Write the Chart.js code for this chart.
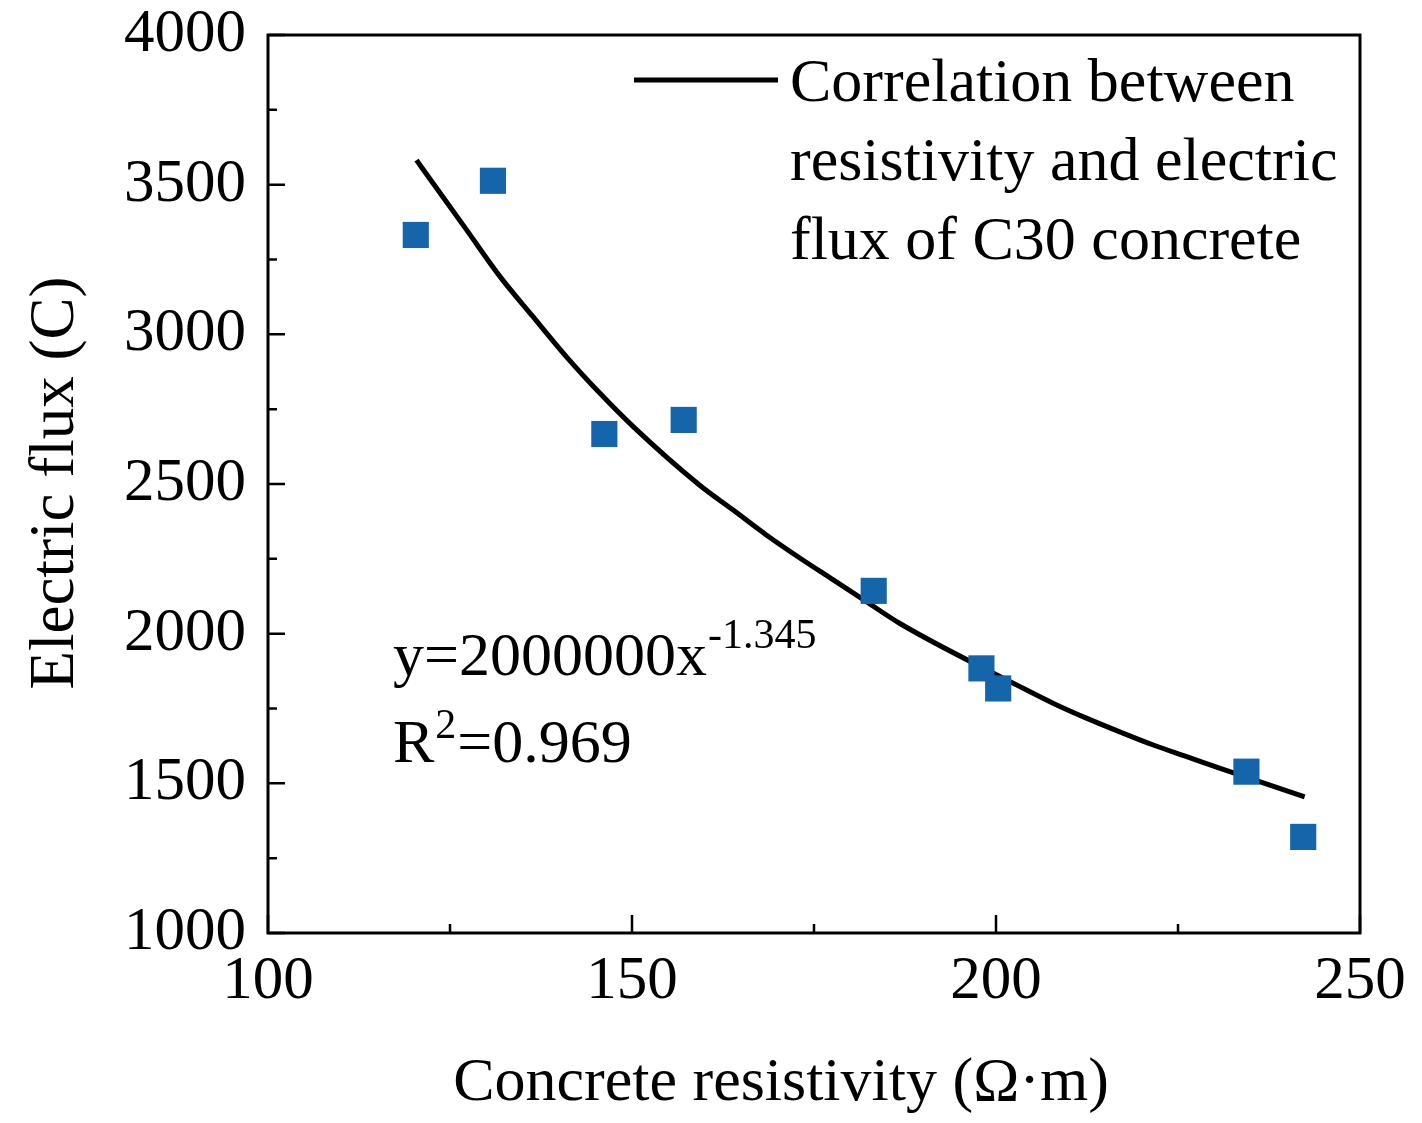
<!DOCTYPE html>
<html>
<head>
<meta charset="utf-8">
<script src="https://cdn.jsdelivr.net/npm/chart.js@4"></script>
<style>
  body { margin: 0; background: #fff; }
  #wrap { width: 1422px; height: 1123px; }
</style>
</head>
<body>
<div id="wrap"><canvas id="myChart" width="1422" height="1123"></canvas></div>
<script>
// measured points (resistivity, electric flux)
const resistivity = [120.3, 130.9, 146.2, 157.1, 183.2, 198.0, 200.3, 234.4, 242.2];
const electricFlux = [3332, 3513, 2667, 2714, 2143, 1884, 1817, 1539, 1321];

// fitted curve
const fitX = [120.4, 122.7, 127.3, 131.9, 136.4, 141.0, 145.6, 150.2, 159.3, 163.9, 168.5, 173.1, 177.7, 182.2, 186.8, 203.3, 207.9, 212.5, 217.0, 221.6, 226.2, 230.8, 242.4];
const fitY = [3582, 3504, 3348, 3192, 3059, 2925, 2803, 2691, 2496, 2413, 2329, 2252, 2179, 2107, 2034, 1823, 1767, 1717, 1672, 1628, 1589, 1550, 1455];

const xTicks = [100, 150, 200, 250];
const yTicks = [1000, 1500, 2000, 2500, 3000, 3500, 4000];

const legendLines = ["Correlation between", "resistivity and electric", "flux of C30 concrete"];
const fitText = "y=2000000x";
const fitExp = "-1.345";
const r2Text = "=0.969";

const serif = "'Liberation Serif', 'Times New Roman', serif";
const pointBlue = "#1565ab";

// frame + inward ticks + texts
const decorations = {
  id: "decorations",
  afterDraw(chart) {
    const ctx = chart.ctx;
    const a = chart.chartArea;
    const xs = chart.scales.x, ys = chart.scales.y;
    ctx.save();
    ctx.strokeStyle = "#000";
    ctx.lineWidth = 3;
    ctx.strokeRect(a.left, a.top, a.right - a.left, a.bottom - a.top);

    ctx.lineWidth = 2.5;
    ctx.beginPath();
    for (let v = 100; v <= 250; v += 25) {
      const px = xs.getPixelForValue(v);
      const len = (v % 50 === 0) ? 18 : 9;
      ctx.moveTo(px, a.bottom);
      ctx.lineTo(px, a.bottom - len);
    }
    for (let v = 1000; v <= 4000; v += 250) {
      const py = ys.getPixelForValue(v);
      const len = (v % 500 === 0) ? 17 : 9;
      ctx.moveTo(a.left, py);
      ctx.lineTo(a.left + len, py);
    }
    ctx.stroke();

    // legend
    ctx.lineWidth = 5;
    ctx.beginPath();
    ctx.moveTo(634, 80);
    ctx.lineTo(778, 80);
    ctx.stroke();
    ctx.fillStyle = "#000";
    ctx.font = "62px " + serif;
    ctx.textAlign = "left";
    ctx.textBaseline = "alphabetic";
    legendLines.forEach((t, i) => ctx.fillText(t, 790, 101 + i * 79));

    // fit equation
    ctx.fillText(fitText, 393, 675);
    const w = ctx.measureText(fitText).width;
    ctx.font = "42px " + serif;
    ctx.fillText(fitExp, 393 + w + 1, 648);
    ctx.font = "62px " + serif;
    ctx.fillText("R", 393, 762);
    const rw = ctx.measureText("R").width;
    ctx.font = "42px " + serif;
    ctx.fillText("2", 393 + rw + 1, 738);
    const tw = ctx.measureText("2").width;
    ctx.font = "62px " + serif;
    ctx.fillText(r2Text, 393 + rw + tw + 2, 762);

    // axis titles
    ctx.textAlign = "center";
    ctx.fillText("Concrete resistivity (\u03A9\u00B7m)", 781, 1100);
    ctx.font = "63px " + serif;
    ctx.translate(73, 483);
    ctx.rotate(-Math.PI / 2);
    ctx.fillText("Electric flux (C)", 0, 0);
    ctx.restore();
  }
};

new Chart("myChart", {
  data: {
    datasets: [
      {
        type: "scatter",
        label: "Measured",
        data: resistivity.map((x, i) => ({x: x, y: electricFlux[i]})),
        pointStyle: "rect",
        pointRadius: 18.5,
        backgroundColor: pointBlue,
        borderColor: pointBlue,
        borderWidth: 0
      },
      {
        type: "line",
        label: legendLines.join(" "),
        data: fitX.map((x, i) => ({x: x, y: fitY[i]})),
        borderColor: "#000",
        borderWidth: 5,
        pointRadius: 0,
        cubicInterpolationMode: "monotone",
        fill: false
      }
    ]
  },
  options: {
    responsive: false,
    animation: false,
    layout: { padding: { top: 35, right: 62, left: 0, bottom: 0 } },
    plugins: { legend: { display: false }, tooltip: { enabled: false } },
    scales: {
      x: {
        type: "linear",
        min: 100, max: 250,
        afterFit: (s) => { s.height = 190; s.paddingLeft = 0; s.paddingRight = 0; },
        afterBuildTicks: (s) => { s.ticks = xTicks.map(v => ({value: v})); },
        grid: { display: false, drawTicks: false },
        border: { display: false },
        ticks: { color: "#000", padding: 12, font: { family: serif, size: 61 }, maxRotation: 0,
                 callback: (v) => String(v) }
      },
      y: {
        type: "linear",
        min: 1000, max: 4000,
        afterFit: (s) => { s.width = 268; s.paddingTop = 0; s.paddingBottom = 0; },
        afterBuildTicks: (s) => { s.ticks = yTicks.map(v => ({value: v})); },
        grid: { display: false, drawTicks: false },
        border: { display: false },
        ticks: { color: "#000", padding: 22, font: { family: serif, size: 61 },
                 callback: (v) => String(v) }
      }
    }
  },
  plugins: [decorations]
});
</script>
</body>
</html>
